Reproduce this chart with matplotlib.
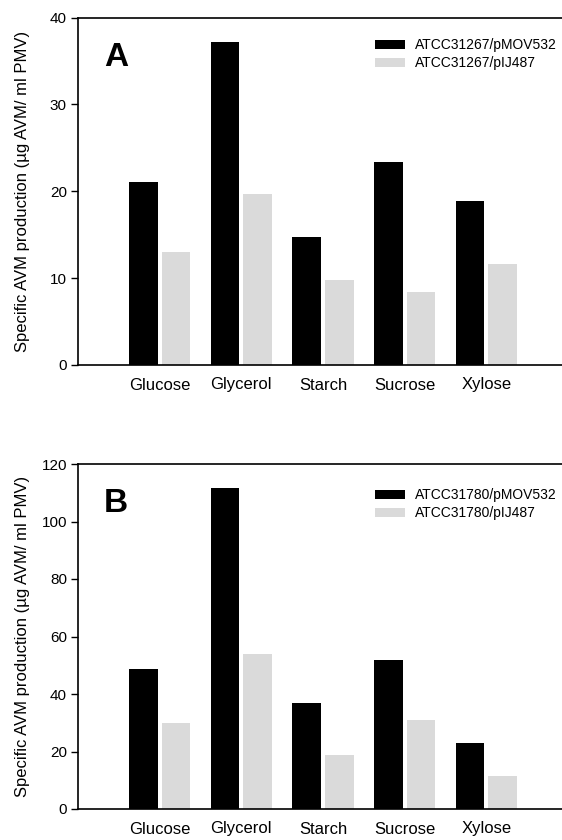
#!/usr/bin/env python3

import numpy as np
import matplotlib
matplotlib.use('Agg')
import matplotlib.pyplot as plt

plt.rcParams['font.family'] = ['Liberation Sans', 'DejaVu Sans']

sugars = ['Glucose', 'Glycerol', 'Starch', 'Sucrose', 'Xylose']

# panel A, strain ATCC31267
a_labels = ['ATCC31267/pMOV532', 'ATCC31267/pIJ487']
a_pmov = [21.1, 37.2, 14.7, 23.4, 18.9]
a_pij = [13.0, 19.7, 9.8, 8.4, 11.6]

# panel B, strain ATCC31780
b_labels = ['ATCC31780/pMOV532', 'ATCC31780/pIJ487']
b_pmov = [48.8, 111.6, 36.9, 51.7, 22.9]
b_pij = [29.8, 53.8, 18.7, 31.0, 11.6]

W, H = 562, 840
fig = plt.figure(figsize=(W / 100, H / 100), dpi=100)


def panel(rect, letter, pmov, pij, labels, ymax, ystep, leg_top) :
	ax = fig.add_axes(rect)
	x = np.arange(1, len(sugars) + 1)
	ax.bar(x - 0.2, pmov, width=0.355, color='black', label=labels[0])
	ax.bar(x + 0.2, pij, width=0.355, color='#dadada', label=labels[1])
	ax.set_xlim(0, 6)
	ax.set_ylim(0, ymax)
	ax.set_yticks(np.arange(0, ymax + 1, ystep))
	ax.set_xticks(x)
	ax.set_xticklabels(sugars, fontsize=12)
	ax.tick_params(axis='x', length=0, pad=9)
	ax.tick_params(axis='y', direction='out', length=5, width=1, labelsize=11, pad=3)
	ax.spines['right'].set_visible(False)
	for s in ('top', 'left', 'bottom') :
		ax.spines[s].set_linewidth(1.2)
	ax.set_ylabel('Specific AVM production (\u00b5g AVM/ ml PMV)', fontsize=12)
	ax.yaxis.set_label_coords(-0.098, 0.5)
	ax.text(0.078, 0.885, letter, transform=ax.transAxes, fontsize=24,
		fontweight='bold', ha='center', va='center')
	ax.legend(loc='upper left', bbox_to_anchor=(375 / W, 1 - leg_top / H),
		bbox_transform=fig.transFigure, frameon=False, fontsize=10,
		borderpad=0, borderaxespad=0, handlelength=2.15, handleheight=0.6,
		handletextpad=0.7, labelspacing=0.3)
	return ax


panel([78 / W, 1 - 365 / H, 490 / W, 347.5 / H], 'A', a_pmov, a_pij, a_labels, 40, 10, 38)
panel([78 / W, 1 - 809 / H, 490 / W, 345 / H], 'B', b_pmov, b_pij, b_labels, 120, 20, 488)

fig.savefig('out.png', dpi=100)
